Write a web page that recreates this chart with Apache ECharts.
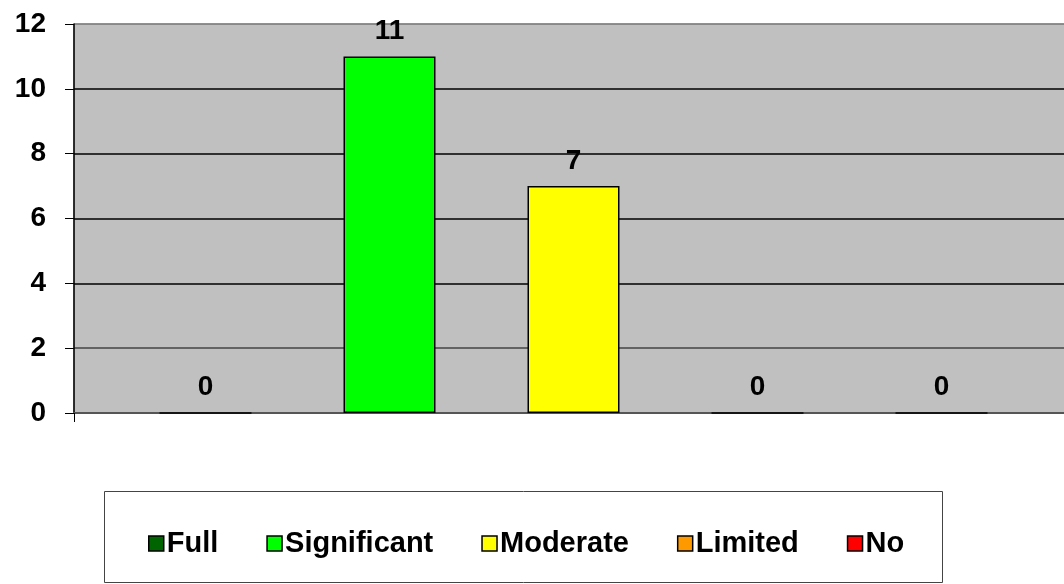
<!DOCTYPE html>
<html>
<head>
<meta charset="utf-8">
<script src="https://cdn.jsdelivr.net/npm/echarts@6/dist/echarts.min.js"></script>
<style>html,body{margin:0;padding:0;background:#fff;}#c{width:1064px;height:584px;}</style>
</head>
<body>
<div id="c"></div>
<script>
const categories = [''];
const seriesNames = ['Full', 'Significant', 'Moderate', 'Limited', 'No'];
const seriesValues = [[0], [11], [7], [0], [0]];
const seriesColors = ['#006400', '#00FF00', '#FFFF00', '#FF9900', '#FF0000'];
const yTicks = [0, 2, 4, 6, 8, 10, 12];

const FONT = 'Liberation Sans, Arial, sans-serif';
const chart = echarts.init(document.getElementById('c'), null, {renderer: 'canvas'});
const series = seriesNames.map((name, i) => ({
  name: name,
  type: 'bar',
  data: seriesValues[i],
  barWidth: 92,
  barGap: '100%',
  itemStyle: {color: seriesColors[i], borderColor: '#000', borderWidth: 1.5},
  label: {show: true, position: 'top', distance: 11, color: '#000', fontFamily: FONT, fontWeight: 'bold', fontSize: 28},
  emphasis: {disabled: true}
}));
chart.setOption({
  animation: false,
  grid: {left: 74, top: 24, width: 999, bottom: 171, outerBoundsMode: 'none', show: true, backgroundColor: '#C0C0C0', borderColor: '#808080', borderWidth: 1},
  graphic: [{type: 'rect', shape: {x: 104.5, y: 491.5, width: 838, height: 91}, style: {fill: '#fff', stroke: '#444', lineWidth: 1}, z: -1}],
  legend: {
    data: seriesNames,
    left: 143, top: 524,
    itemWidth: 15, itemHeight: 15, itemGap: 48,
    icon: 'rect',
    itemStyle: {borderColor: '#000', borderWidth: 1.5},
    textStyle: {color: '#000', fontFamily: FONT, fontWeight: 'bold', fontSize: 29, padding: [0, 0, 0, -2]}
  },
  xAxis: {
    type: 'category', data: categories,
    axisLine: {show: true, lineStyle: {color: '#555', width: 2}},
    axisTick: {show: true, length: 9, lineStyle: {color: '#000'}},
    axisLabel: {show: false}
  },
  yAxis: {
    type: 'value', min: yTicks[0], max: yTicks[yTicks.length - 1], interval: 2,
    axisLine: {show: true, lineStyle: {color: '#000', width: 1.5}},
    axisTick: {show: true, length: 9, lineStyle: {color: '#000'}},
    axisLabel: {margin: 28, color: '#000', fontFamily: FONT, fontWeight: 'bold', fontSize: 28},
    splitLine: {show: true, lineStyle: {color: ['#555', '#444', '#000', '#000', '#000', '#000', '#808080'], width: 1.5}}
  },
  series: series
});
</script>
</body>
</html>
